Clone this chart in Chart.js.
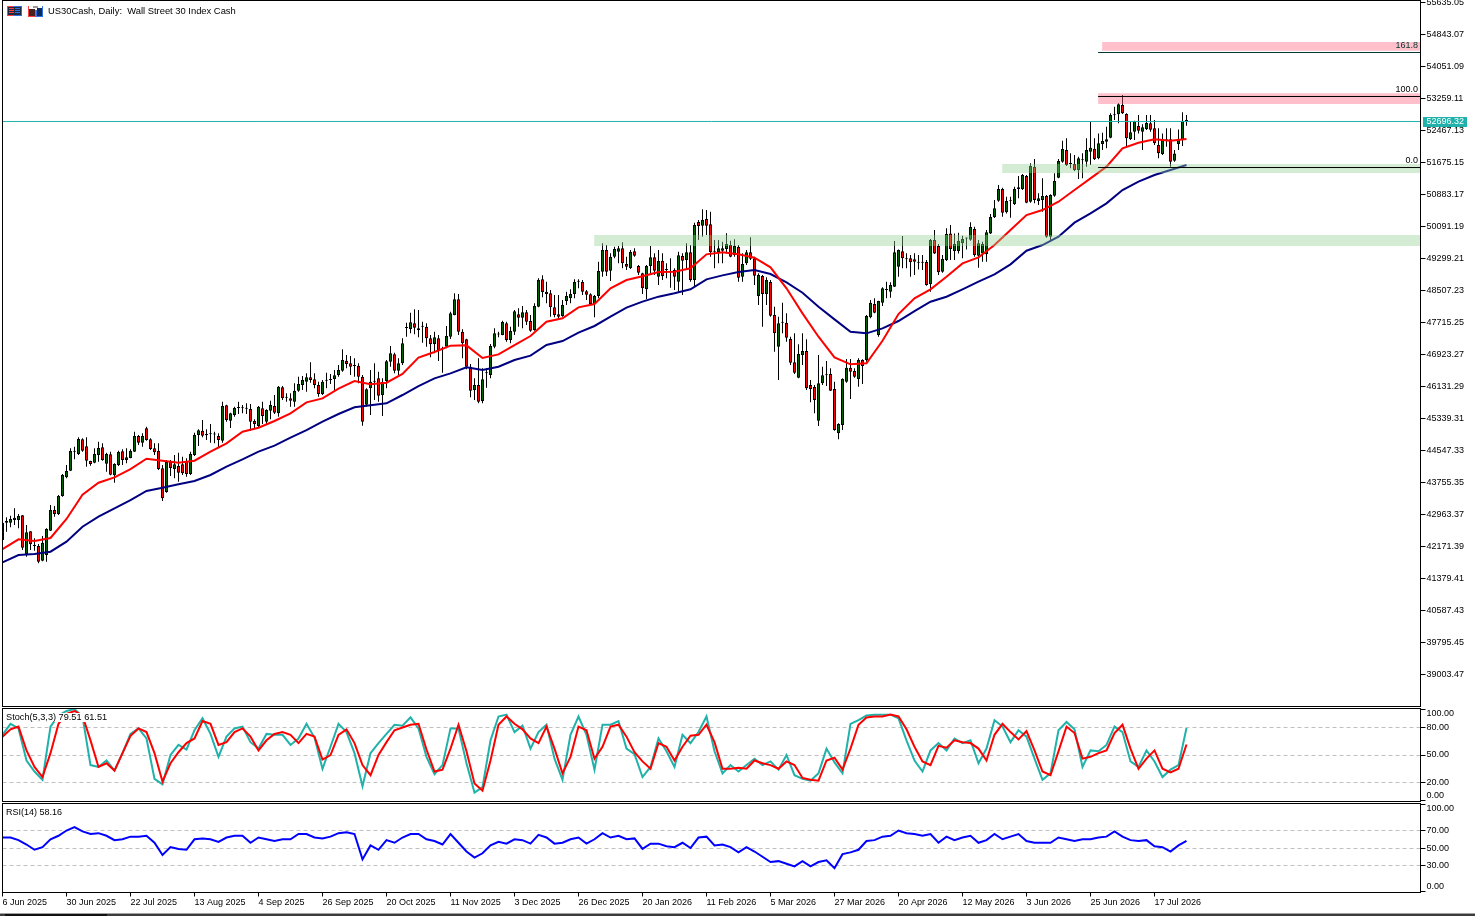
<!DOCTYPE html>
<html>
<head>
<meta charset="utf-8">
<title>US30Cash Daily</title>
<script src="https://cdn.jsdelivr.net/npm/chart.js@4/dist/chart.umd.min.js"></script>
<style>
html, body { margin: 0; padding: 0; background: #fff; overflow: hidden; width: 1475px; height: 916px; }
canvas { position: absolute; left: 0; }
.strip { position: absolute; }
</style>
</head>
<body>
<canvas id="price" width="1475" height="707" style="top:0"></canvas>
<canvas id="stoch" width="1475" height="95" style="top:707px"></canvas>
<canvas id="rsi" width="1475" height="114" style="top:802px"></canvas>
<div class="strip" style="left:0;top:913px;width:1475px;height:1px;background:#a0a0a0"></div>
<div class="strip" style="left:0;top:914px;width:1475px;height:2px;background:#3c3c3c"></div>
<div class="strip" style="left:5px;top:914px;width:102px;height:2px;background:#111"></div>
<script>
// daily candles
var opens = [
  42320,42749,42749,42815,42815,42930,41973,42534,42171,42171,41808,41949,42551,43063,42963,43409,
  43871,44036,44506,44449,44812,44638,44276,44234,44424,44614,44209,44440,43921,44176,44515,44300,
  44350,44506,44894,44729,45084,44812,44589,44531,44094,43508,44259,44077,44152,44193,44276,43953,
  44424,44919,45026,44910,44935,44930,44894,44779,45653,45273,45414,45585,45580,45570,45562,45265,
  45141,45579,45249,45521,45636,45455,46098,45840,45826,45744,46016,46156,46239,46346,46297,46156,
  45934,46260,46278,46305,46404,46511,46759,46692,46625,46635,46362,45670,46074,46235,46321,45909,
  46255,46734,46915,46511,46692,47565,47542,47682,47559,47600,47600,47311,47171,47311,47045,47105,
  47353,47889,48277,47476,47286,46610,46032,46156,45760,46445,46404,47105,47405,47394,47682,47270,
  47476,47905,47823,47955,47740,47517,48095,48771,48466,48425,48079,47905,47864,48235,48301,48408,
  48710,48705,48474,48400,48161,48359,48961,49497,48986,49332,49456,49539,49151,49052,49464,49101,
  48920,48524,49101,49316,48837,49233,49000,48950,49003,48714,49349,49250,49440,48755,50190,50100,
  50265,50133,49455,49440,49481,49522,49621,49374,49580,48837,49167,49440,49291,48359,48854,48408,
  48705,47889,47105,47695,47699,47295,46717,46338,46899,46998,46156,46107,45273,46197,46400,46428,
  46057,44960,45166,46239,46585,46503,46305,46775,46775,47831,48161,47394,48194,48505,48466,48590,
  49084,49464,49270,49291,49266,49185,49180,49200,48647,49744,49596,48961,49249,49909,49472,49472,
  49662,49780,49753,50017,49357,49414,49390,49909,50306,50718,51007,50429,50705,50635,51007,50999,
  51329,50693,51560,50710,50735,50834,49827,50842,51287,51683,51972,51623,51626,51477,51720,51683,
  51931,52005,51766,52120,52178,52277,52835,52855,53086,52863,52244,52426,52566,52426,52492,52632,
  52508,52096,51873,52215,52236,51708,52120,52219,52690
];
var highs = [
  42774,42881,42922,43104,42963,42940,42691,42540,42361,42221,42419,42609,43186,43161,43434,43953,
  44176,44589,44630,44861,44836,44861,44284,44589,44754,44713,44482,44506,44218,44531,44564,44589,
  44564,45001,44919,44960,45125,44836,44713,44713,44176,44300,44300,44424,44482,44383,44341,44506,
  44977,45059,45290,45059,45191,45001,44960,45744,45670,45472,45620,45744,45661,45702,45686,45307,
  45636,45744,45554,45769,45909,46131,46131,45950,45950,46197,46362,46379,46445,46717,46445,46239,
  46280,46461,46428,46527,46651,47039,46899,46874,46816,46692,46404,46074,46527,46692,46486,46321,
  46775,47121,46956,46816,47311,47699,47946,48029,48012,47724,47682,47394,47476,47394,47105,47616,
  47971,48425,48409,47534,47300,46676,46321,46816,46569,46569,47171,47559,47476,47748,47724,47600,
  48012,48054,48111,48012,47889,48177,48796,48870,48714,48507,48384,48384,48260,48466,48524,48771,
  48771,48755,48507,48425,48384,49209,49662,49621,49415,49580,49596,49687,49332,49497,49539,49126,
  48936,49126,49596,49415,49497,49415,49167,49291,49044,49456,49415,49662,49621,50174,50240,50504,
  50487,50446,49745,49745,49704,49910,49728,49761,49621,49415,49497,49811,49332,48920,48879,48821,
  48755,48095,47847,48194,47930,47352,47435,47163,47435,47286,46280,46156,46899,46610,46750,46569,
  46239,45208,46321,46800,46800,46569,46816,46791,47889,48260,48301,48243,48573,48713,48697,49720,
  49513,49843,49415,49373,49415,49373,49373,49250,49769,49992,49645,49373,50033,50116,49909,49926,
  49852,49810,50182,50074,49744,49703,49992,50388,50734,51106,51040,50817,50817,51065,51329,51378,
  51353,51642,51749,50900,51271,50858,50875,51395,51749,52203,52261,51890,51848,51807,51890,52261,
  52673,52261,52384,52401,52550,52880,53045,53127,53333,52880,52673,52698,52838,52607,52838,52838,
  52714,52508,52384,52508,52508,51972,52483,52904,52838
];
var lows = [
  42279,42526,42633,42691,42609,42073,41907,42073,42056,41742,41792,41784,42545,42897,42939,43393,
  43846,44030,44317,44424,44506,44135,44160,44218,44259,44284,44011,43921,43739,44152,44176,44218,
  44341,44500,44671,44630,44779,44547,44424,44053,43285,43492,43904,43846,43764,43929,43887,43929,
  44399,44647,44861,44795,44729,44713,44589,44729,45249,45092,45372,45438,45455,45438,45026,45059,
  45108,45191,45191,45307,45438,45372,45785,45744,45620,45620,45991,46032,45991,46214,46074,45867,
  45909,46074,46181,46032,46362,46486,46569,46404,46362,46197,45150,45620,45414,45785,45744,45389,
  46074,46610,46445,46404,46651,47352,47435,47410,47336,47204,47105,46841,46940,46750,46461,47064,
  47295,47880,47394,46816,46544,45851,45785,45702,45702,46090,46321,47064,47336,47390,47229,47187,
  47394,47600,47559,47641,47476,47501,48079,48326,48177,47847,47831,47765,47847,48136,48177,48301,
  48549,48384,48260,48136,47831,48301,48837,48854,48730,49291,49167,49044,49003,49027,49332,48879,
  48409,48285,48920,48879,48631,48755,48796,48565,48507,48441,48384,49003,48714,48606,49745,49827,
  49869,49332,49044,49167,49167,49415,49316,49332,48714,48714,49126,49250,48631,48136,47600,48136,
  47847,46981,46280,47435,47229,46651,46428,46321,46651,46032,45727,45455,45141,46156,46131,46010,
  45026,44811,45042,46214,45810,46338,46115,46181,46734,47806,47930,47352,48111,48301,48317,48585,
  48837,49043,49043,48837,48878,49018,49002,48614,48466,49398,48878,48936,49225,49249,49249,49414,
  49291,49513,49728,49332,49060,49208,49208,49893,50289,50693,50322,50404,50297,50611,50776,50982,
  50652,50668,50652,50611,50446,49802,49703,50817,51271,51658,51576,51518,51452,51254,51271,51559,
  51601,51725,51741,51972,52013,52261,52714,52632,52863,52038,52219,52219,52384,51972,52467,52426,
  52096,51766,51848,52054,51559,51683,51972,52071,52574
];
var closes = [
  42749,42790,42840,42873,42914,42130,42510,42213,42180,41784,42254,42592,43063,42963,43409,43929,
  44028,44523,44514,44820,44531,44284,44201,44449,44597,44300,44449,43937,44201,44498,44300,44366,
  44531,44894,44729,44894,44795,44572,44490,44077,43351,44251,44102,44193,43987,43970,43953,44449,
  44919,45034,44902,44943,44935,44940,44795,45636,45290,45455,45587,45590,45580,45575,45249,45191,
  45620,45389,45537,45661,45472,46115,45826,45845,45768,46016,46181,46280,46346,46280,46156,45934,
  46239,46265,46285,46395,46527,46775,46676,46610,46630,46362,45249,46049,46239,46240,45892,46239,
  46742,46940,46511,46692,47187,47570,47707,47575,47517,47605,47311,47163,47336,47022,47050,47369,
  47930,48277,47476,47187,46610,46016,46156,45744,46297,46450,47121,47435,47415,47715,47270,47493,
  47980,47823,47955,47724,47501,48111,48755,48458,48408,48079,47889,47847,48136,48359,48408,48705,
  48715,48466,48392,48161,48359,48978,49497,48961,49332,49522,49539,49167,49085,49448,49357,48936,
  48549,49101,49316,48986,49225,48854,49003,48955,48837,49365,49233,49440,48755,50116,50091,50240,
  50100,49440,49460,49539,49539,49646,49332,49605,48813,49151,49440,49283,48862,48879,48408,48755,
  47872,47435,47682,47700,47328,46709,46461,46923,46998,46074,46057,45785,46197,46395,46405,46016,
  45042,45191,46305,46585,46486,46362,46775,46626,47864,48194,47946,48235,48549,48510,48631,49439,
  49497,49291,49275,49192,49208,49190,49187,48631,49744,49414,48944,49274,49893,49522,49645,49728,
  49769,49785,50066,49373,49662,49645,49934,50314,50528,51007,50421,50710,50710,51007,51048,51353,
  50668,51576,50735,50776,50834,49827,50858,51205,51700,51997,51601,51628,51477,51766,51725,51972,
  52030,51741,52137,52195,52236,52838,52840,53102,52880,52261,52409,52690,52450,52533,52640,52475,
  52137,51890,52219,52222,51683,51889,52236,52698,52696
];

// moving averages, one reading every 4 bars
var emaEvery = 4;
var emaFast = [
  42097,42336,42295,42370,42840,43442,43739,43871,44077,44333,44283,44234,44283,44506,44713,45001,45100,45265,45455,
  45727,45826,46066,46255,46173,46214,46429,46833,46973,47130,47138,46824,46915,47146,47369,47724,47806,48079,48161,
  48549,48755,48846,48953,48961,49044,49390,49440,49390,49308,49068,48549,47930,47352,46841,46668,46692,47250,
  47913,48301,48523,48837,49167,49315,49621,49992,50363,50487,50693,50982,51271,51560,52013,52153,52236,52203,52244
];
var emaSlow = [
  41767,41949,41973,42031,42279,42650,42897,43104,43310,43533,43615,43698,43780,43929,44135,44316,44506,44655,44853,
  45042,45249,45438,45604,45653,45702,45909,46131,46321,46445,46593,46527,46610,46775,46883,47146,47245,47451,47617,
  47847,48070,48219,48343,48425,48524,48771,48870,48953,49003,48903,48697,48441,48095,47781,47476,47435,47559,
  47740,47987,48218,48342,48523,48713,48895,49142,49480,49621,49827,50174,50404,50652,50982,51188,51353,51477,51601
];

// oscillators, one reading every 2 bars
var oscEvery = 2;
var stochK = [
  72,84,79,44,32,23,81,93,98,100,92,39,37,44,33,52,73,79,68,24,18,50,61,56,77,90,73,48,70,79,81,64,57,73,72,72,61,68,84,69,35,59,84,75,52,16,52,63,73,83,
  82,91,79,48,29,39,79,79,41,9,15,66,92,94,75,82,57,75,83,46,23,72,92,72,34,83,83,87,57,51,26,37,68,54,37,72,63,75,92,54,30,39,32,39,46,39,43,34,50,28,
  24,22,30,57,42,30,84,88,93,94,94,94,90,66,44,32,55,63,55,68,63,66,41,57,88,81,64,77,70,46,23,30,77,86,78,37,55,54,61,81,75,43,37,55,43,26,34,39,79.51
];
var stochD = [
  70,78,81,55,37,26,52,84,95,98,93,66,37,41,33,52,71,79,75,52,21,41,53,63,68,87,84,61,64,75,79,70,55,66,73,75,72,63,73,70,45,50,72,78,63,39,28,50,64,77,
  80,83,84,56,32,34,57,83,54,19,11,44,83,92,84,78,68,63,81,57,30,48,81,77,46,59,81,83,70,53,43,35,63,59,44,59,71,72,83,64,35,35,36,35,44,41,39,35,43,39,
  25,23,22,44,47,34,57,83,91,92,92,94,92,78,59,43,39,60,58,66,64,63,57,44,72,84,75,67,76,55,32,28,54,81,74,46,48,52,55,74,83,57,35,46,55,35,31,35,61.51
];
var rsiLine = [
  62,62,59,54,48,51,60,64,70,74,69,66,67,64,59,60,63,63,64,56,42,51,49,48,60,61,60,57,62,64,64,56,62,60,58,60,60,66,66,62,61,63,67,68,66,37,53,48,59,56,
  62,66,66,60,58,54,66,56,46,39,44,53,57,55,60,59,55,65,62,55,56,60,62,55,60,67,62,64,60,61,49,55,55,52,51,56,50,62,63,53,54,51,45,51,46,40,34,35,32,29,
  35,29,34,36,27,43,45,48,58,59,63,64,70,67,66,64,66,56,63,59,62,64,56,59,66,60,63,66,58,56,56,56,62,60,58,60,60,62,63,69,63,59,58,59,52,51,46,53,58.16
];

// tick labels
var priceTicks = [55635.05,54843.07,54051.09,53259.11,52467.13,51675.15,50883.17,50091.19,49299.21,48507.23,47715.25,
  46923.27,46131.29,45339.31,44547.33,43755.35,42963.37,42171.39,41379.41,40587.43,39795.45,39003.47];
var dateLabels = ['6 Jun 2025','30 Jun 2025','22 Jul 2025','13 Aug 2025','4 Sep 2025','26 Sep 2025','20 Oct 2025',
  '11 Nov 2025','3 Dec 2025','26 Dec 2025','20 Jan 2026','11 Feb 2026','5 Mar 2026','27 Mar 2026','20 Apr 2026',
  '12 May 2026','3 Jun 2026','25 Jun 2026','17 Jul 2026'];
var dateEvery = 16;
var stochLevels = [80, 50, 20];
var rsiLevels = [70, 50, 30];

// zones and fibonacci levels: [first bar, low, high]
var pinkZones = [[274.9, 54430, 54645], [273.9, 53111, 53376]];
var greenZones = [[249.9, 51403, 51626], [147.9, 49596, 49869]];
var fibLevels = [54386, 53297, 51539];
var fibStart = 273.9;
var lastPrice = 52678;

var BARS_MAX = 354.5;
var FONT_NAME = '"Liberation Sans"';
var FONT_OPT = {family: 'Liberation Sans', size: 9};

function xy(list, step) {
  return list.map(function(v, i) { return {x: i * step, y: v}; });
}

function lineSet(list, step, color, order) {
  return {type: 'line', data: xy(list, step), borderColor: color, borderWidth: 2, pointRadius: 0, tension: 0, order: order};
}

function hLine(from, level, color, order) {
  return {type: 'line', data: [{x: from, y: level}, {x: BARS_MAX, y: level}], borderColor: color, borderWidth: 1, pointRadius: 0, order: order};
}

function zoneSet(zone, color) {
  return {type: 'line', data: [{x: zone[0], y: zone[2]}, {x: BARS_MAX, y: zone[2]}], fill: {value: zone[1]},
    backgroundColor: color, borderWidth: 0, pointRadius: 0, order: 3};
}

function frame(chart) {
  var a = chart.chartArea, ctx = chart.ctx;
  ctx.save();
  ctx.strokeStyle = '#000';
  ctx.lineWidth = 1;
  ctx.strokeRect(a.left, a.top, a.right - a.left, a.bottom - a.top);
  ctx.restore();
}

function put(ctx, text, x, y, color, align, size) {
  ctx.font = (size || 9) + 'px ' + FONT_NAME;
  ctx.fillStyle = color;
  ctx.textAlign = align || 'left';
  ctx.textBaseline = 'middle';
  ctx.fillText(text, x, y);
}

// keep the chart area where it belongs, labels may stick out of it
function noLabelPadding(scale) {
  scale.paddingTop = 0;
  scale.paddingBottom = 0;
  scale.paddingLeft = 0;
  scale.paddingRight = 0;
}

function xScale(show) {
  var s = {type: 'linear', display: show, min: 0, max: BARS_MAX, offset: false};
  if (show) {
    s.grid = {drawOnChartArea: false, tickLength: 4, tickColor: '#000'};
    s.border = {display: false};
    s.ticks = {font: FONT_OPT, color: '#000', align: 'start', padding: 1, autoSkip: false, maxRotation: 0,
      callback: function(v) { return dateLabels[v / dateEvery]; }};
    s.afterBuildTicks = function(scale) {
      scale.ticks = dateLabels.map(function(d, k) { return {value: k * dateEvery}; });
    };
    s.afterFit = function(scale) { scale.height = 23.5; noLabelPadding(scale); };
  }
  return s;
}

// oscillator axis: the 100 and 0 labels sit inside the pane, the tick marks stay at the ends
function oscAxis(min, max, levels, topAt, bottomAt) {
  var all = [100].concat([topAt], levels, [bottomAt], [0]);
  return {
    position: 'right', min: min, max: max,
    grid: {
      color: function(c) { return levels.indexOf(c.tick.value) >= 0 ? '#c0c0c0' : 'rgba(0,0,0,0)'; },
      tickColor: function(c) { return (c.tick.value === topAt || c.tick.value === bottomAt) ? 'rgba(0,0,0,0)' : '#000'; },
      tickLength: 5, tickBorderDash: [0, 0]
    },
    border: {display: false, dash: [4, 3]},
    ticks: {font: FONT_OPT, color: '#000', padding: 1, autoSkip: false,
      callback: function(v) {
        if (v === topAt) return '100.00';
        if (v === bottomAt) return '0.00';
        return (v === 100 || v === 0) ? '' : v.toFixed(2);
      }},
    afterBuildTicks: function(scale) { scale.ticks = all.map(function(v) { return {value: v}; }); },
    afterFit: function(scale) { scale.width = 54.5; noLabelPadding(scale); }
  };
}

var baseOptions = {responsive: false, animation: false, devicePixelRatio: 1,
  plugins: {legend: {display: false}, tooltip: {enabled: false}}};

function options(pad, scales) {
  return Object.assign({}, baseOptions, {layout: {padding: pad}, scales: scales});
}

// price pane
var priceSets = [
  {type: 'bar', data: lows.map(function(l, i) { return {x: i, y: [l, highs[i]]}; }), backgroundColor: '#000',
    barThickness: 1, grouped: false, borderWidth: 0, minBarLength: 1, inflateAmount: 0, order: 7},
  {type: 'bar', data: opens.map(function(o, i) { return {x: i, y: [o, closes[i]]}; }),
    backgroundColor: opens.map(function(o, i) { return closes[i] >= o ? '#006400' : '#ff0000'; }),
    borderColor: '#000', borderWidth: 1, borderSkipped: false, barThickness: 3, grouped: false, minBarLength: 1, inflateAmount: 0, order: 6},
  lineSet(emaSlow, emaEvery, '#000080', 5),
  lineSet(emaFast, emaEvery, '#ff0000', 4),
  zoneSet(pinkZones[0], 'rgba(255,97,125,0.4)'),
  zoneSet(pinkZones[1], 'rgba(255,97,125,0.4)'),
  zoneSet(greenZones[0], 'rgba(145,207,145,0.4)'),
  zoneSet(greenZones[1], 'rgba(145,207,145,0.4)'),
  hLine(0, lastPrice, '#20b2aa', 2),
  hLine(fibStart, fibLevels[0], '#003530', 1),
  hLine(fibStart, fibLevels[1], '#000', 1),
  hLine(fibStart, fibLevels[2], '#000', 1)
];

new Chart('price', {
  type: 'bar',
  data: {datasets: priceSets},
  options: options({left: 2.5, top: 0.5, bottom: 0.5}, {
    x: xScale(false),
    y: {
      position: 'right', min: 38199.6, max: 55672.6,
      grid: {drawOnChartArea: false, tickLength: 5, tickColor: '#000'},
      border: {display: false},
      ticks: {font: FONT_OPT, color: '#000', padding: 1, autoSkip: false,
        callback: function(v) { return v.toFixed(2); }},
      afterBuildTicks: function(scale) { scale.ticks = priceTicks.map(function(v) { return {value: v}; }); },
      afterFit: function(scale) { scale.width = 54.5; noLabelPadding(scale); }
    }
  }),
  plugins: [{
    id: 'priceDeco',
    afterDraw: function(chart) {
      var ctx = chart.ctx;
      frame(chart);
      ctx.save();
      // header icons
      ctx.fillStyle = '#ff4040'; ctx.fillRect(7, 6, 7, 10);
      ctx.fillStyle = '#3070e0'; ctx.fillRect(14, 6, 8, 10);
      ctx.fillStyle = '#202840'; ctx.fillRect(8, 7, 13, 8);
      ctx.fillStyle = '#ff4040'; ctx.fillRect(9, 8, 5, 1); ctx.fillRect(9, 10, 5, 1); ctx.fillRect(9, 12, 5, 1);
      ctx.fillStyle = '#3070e0'; ctx.fillRect(15, 8, 5, 1); ctx.fillRect(15, 10, 5, 1); ctx.fillRect(15, 12, 5, 1);
      ctx.fillStyle = '#ff4040'; ctx.fillRect(28, 6, 8, 11);
      ctx.fillStyle = '#3070e0'; ctx.fillRect(36, 6, 7, 11);
      ctx.fillStyle = '#fff'; ctx.fillRect(29, 6, 13, 4);
      ctx.fillStyle = '#4a2020'; ctx.fillRect(29, 9, 6, 7);
      ctx.fillStyle = '#102a60'; ctx.fillRect(37, 8, 5, 8);
      ctx.fillStyle = '#999'; ctx.fillRect(33, 6, 5, 2);
      put(ctx, 'US30Cash, Daily:  Wall Street 30 Index Cash', 48, 11.5, '#000', 'left', 9.4);
      // fibonacci labels
      put(ctx, '161.8', 1418, 45.7, '#003530', 'right');
      put(ctx, '100.0', 1418, 89.5, '#000', 'right');
      put(ctx, '0.0', 1418, 160.7, '#000', 'right');
      // last price tag
      ctx.fillStyle = '#20b2aa';
      ctx.fillRect(1423, 117, 44, 10);
      put(ctx, '52696.32', 1426.5, 122, '#fff');
      ctx.restore();
    }
  }]
});

// stochastic pane
new Chart('stoch', {
  type: 'line',
  data: {datasets: [
    lineSet(stochK, oscEvery, '#20b2aa', 2),
    lineSet(stochD, oscEvery, '#ff0000', 1)
  ]},
  options: options({left: 2.5, top: 1.5, bottom: 0.5}, {
    x: xScale(false),
    y: oscAxis(-0.7, 100.7, stochLevels, 95.5, 5.6)
  }),
  plugins: [{
    id: 'stochDeco',
    afterDraw: function(chart) {
      var ctx = chart.ctx;
      ctx.save();
      ctx.fillStyle = '#fff';
      ctx.fillRect(4, 6, 104, 9);
      put(ctx, 'Stoch(5,3,3) 79.51 61.51', 6, 10.5, '#000', 'left', 9.2);
      ctx.restore();
      frame(chart);
    }
  }]
});

// rsi pane, carries the date axis
new Chart('rsi', {
  type: 'line',
  data: {datasets: [lineSet(rsiLine, oscEvery, '#0000ff', 1)]},
  options: options({left: 2.5, top: 1.5}, {
    x: xScale(true),
    y: oscAxis(-0.86, 100.9, rsiLevels, 95.4, 6.2)
  }),
  plugins: [{
    id: 'rsiDeco',
    afterDraw: function(chart) {
      frame(chart);
      put(chart.ctx, 'RSI(14) 58.16', 6, 10.5, '#000');
    }
  }]
});
</script>
</body>
</html>
